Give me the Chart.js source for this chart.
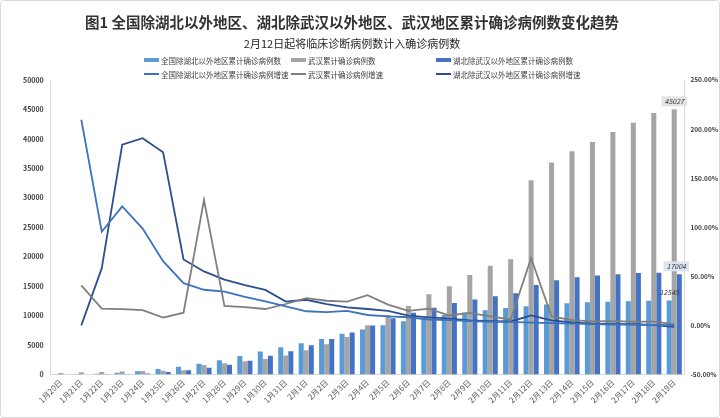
<!DOCTYPE html>
<html>
<head>
<meta charset="utf-8">
<script src="https://cdn.jsdelivr.net/npm/chart.js@4"></script>
<style>
    body { margin: 0; background: #fff; }
    #wrap {
        position: relative;
        width: 720px;
        height: 418px;
        box-sizing: border-box;
        border: 1px solid #d9d9d9;
        border-radius: 4px;
        overflow: hidden;
        background: #fff;
    }
    .heading {
        position: absolute;
        left: 0;
        width: 702px;
        text-align: center;
        font-family: 'Noto Sans CJK SC', sans-serif;
        white-space: nowrap;
    }
    #title { top: 10px; font-size: 14.5px; font-weight: bold; color: #333; }
    #subtitle { top: 34px; font-size: 11px; color: #262626; }
    #legend {
        position: absolute;
        left: 0;
        top: 0;
        font-family: 'Noto Sans CJK SC', sans-serif;
        font-size: 7.5px;
        color: #404040;
    }
    .item { position: absolute; display: flex; align-items: center; white-space: nowrap; }
    .swatch { display: inline-block; width: 15px; margin-right: 2px; }
</style>
</head>
<body>
<div id="wrap">
    <canvas id="chart"></canvas>
    <div id="title" class="heading">图1 全国除湖北以外地区、湖北除武汉以外地区、武汉地区累计确诊病例数变化趋势</div>
    <div id="subtitle" class="heading">2月12日起将临床诊断病例数计入确诊病例数</div>
    <div id="legend"></div>
</div>
<script>
const dates = [
    '1月20日', '1月21日', '1月22日', '1月23日', '1月24日', '1月25日', '1月26日', '1月27日',
    '1月28日', '1月29日', '1月30日', '1月31日', '2月1日', '2月2日', '2月3日', '2月4日',
    '2月5日', '2月6日', '2月7日', '2月8日', '2月9日', '2月10日', '2月11日', '2月12日',
    '2月13日', '2月14日', '2月15日', '2月16日', '2月17日', '2月18日', '2月19日',
];

// cumulative confirmed cases
const outsideHubei = [21, 65, 127, 281, 558, 923, 1321, 1801, 2420, 3125, 3886, 4638, 5306, 6028, 6916, 7646,
    8353, 9049, 9593, 10098, 10540, 10910, 11287, 11598, 11865, 12086, 12251, 12366, 12447, 12503, 12545];
const wuhan = [258, 363, 425, 495, 572, 618, 698, 1590, 1905, 2261, 2639, 3215, 4109, 5142, 6384, 8351,
    10117, 11618, 13603, 14982, 16902, 18454, 19558, 32994, 35991, 37914, 39462, 41152, 42752, 44412, 45027];
const hubeiExWuhan = [12, 12, 19, 54, 157, 434, 725, 1124, 1649, 2325, 3167, 3938, 4965, 6035, 7138, 8327,
    9548, 10494, 11350, 12118, 12729, 13274, 13808, 15212, 15995, 16492, 16787, 17030, 17237, 17270, 17004];

// growth rates, %
const outsideHubeiGrowth = [null, 209.5, 95.4, 121.3, 98.6, 65.4, 43.1, 36.3, 34.4, 29.1, 24.4, 19.4, 14.4, 13.6,
    14.7, 10.6, 9.2, 8.3, 6.0, 5.3, 4.4, 3.5, 3.5, 2.8, 2.3, 1.9, 1.4, 0.9, 0.7, 0.4, 0.3];
const wuhanGrowth = [null, 40.7, 17.1, 16.5, 15.6, 8.0, 12.9, 127.8, 19.8, 18.7, 16.7, 21.8, 27.8, 25.1,
    24.2, 30.8, 21.1, 14.8, 17.1, 10.1, 12.8, 9.2, 6.0, 68.7, 9.1, 5.3, 4.1, 4.3, 3.9, 3.9, 1.4];
const hubeiExWuhanGrowth = [null, 0.0, 58.3, 184.2, 190.7, 176.4, 67.1, 55.0, 46.7, 41.0, 36.2, 24.3, 26.1, 21.6,
    18.3, 16.7, 14.7, 9.9, 8.2, 6.8, 5.0, 4.3, 4.0, 10.2, 5.2, 3.1, 1.8, 1.5, 1.2, 0.2, -1.5];

const countTicks = [0, 5000, 10000, 15000, 20000, 25000, 30000, 35000, 40000, 45000, 50000];
const rateTicks = [-50, 0, 50, 100, 150, 200, 250];

const FONT = "'Noto Sans CJK SC', sans-serif";

const series = [
    { label: '全国除湖北以外地区累计确诊病例数', type: 'bar', data: outsideHubei, color: '#5b9bd5' },
    { label: '武汉累计确诊病例数', type: 'bar', data: wuhan, color: '#a5a5a5' },
    { label: '湖北除武汉以外地区累计确诊病例数', type: 'bar', data: hubeiExWuhan, color: '#4472c4' },
    { label: '全国除湖北以外地区累计确诊病例增速', type: 'line', data: outsideHubeiGrowth, color: '#3d72bf' },
    { label: '武汉累计确诊病例增速', type: 'line', data: wuhanGrowth, color: '#7f7f7f' },
    { label: '湖北除武汉以外地区累计确诊病例增速', type: 'line', data: hubeiExWuhanGrowth, color: '#2c4f8f' },
];

// value boxes on the last bar of each bar series
const endLabels = [
    { dataset: 1, dx: 0, dy: 8, fill: '#e4e4e4' },
    { dataset: 2, dx: -3, dy: 8, fill: '#dce4ef' },
    { dataset: 0, dx: 0, dy: 8, fill: null },
];

const endLabelPlugin = {
    id: 'endLabels',
    afterDatasetsDraw(chart) {
        const ctx = chart.ctx;
        ctx.save();
        ctx.font = 'italic 7px ' + FONT;
        ctx.textAlign = 'center';
        ctx.textBaseline = 'middle';
        endLabels.forEach((spec) => {
            const meta = chart.getDatasetMeta(spec.dataset);
            const i = meta.data.length - 1;
            const bar = meta.data[i];
            const text = String(chart.data.datasets[spec.dataset].data[i]);
            const x = bar.x + spec.dx;
            const y = bar.y - spec.dy;
            const w = ctx.measureText(text).width + 6;
            if (spec.fill) {
                ctx.fillStyle = spec.fill;
                ctx.fillRect(x - w / 2, y - 5, w, 10);
            }
            ctx.fillStyle = '#404040';
            ctx.fillText(text, x, y);
        });
        ctx.restore();
    },
};

const datasets = series.map((s) => {
    if (s.type === 'bar') {
        return {
            type: 'bar',
            label: s.label,
            data: s.data,
            backgroundColor: s.color,
            yAxisID: 'y',
            categoryPercentage: 0.74,
            barPercentage: 1,
            order: 2,
        };
    }
    return {
        type: 'line',
        label: s.label,
        data: s.data,
        borderColor: s.color,
        backgroundColor: s.color,
        borderWidth: 1.8,
        pointRadius: 0,
        tension: 0,
        yAxisID: 'y1',
        order: 1,
    };
});

// html legend, 3 columns x 2 rows
const legendCols = [143, 290, 435];
const legendRows = [59, 73];
const legendEl = document.getElementById('legend');
series.forEach((s, i) => {
    const item = document.createElement('div');
    item.className = 'item';
    item.style.left = legendCols[i % 3] + 'px';
    item.style.top = (legendRows[Math.floor(i / 3)] - 6) + 'px';
    item.style.height = '12px';
    const sw = document.createElement('span');
    sw.className = 'swatch';
    sw.style.height = s.type === 'bar' ? '4px' : '2px';
    sw.style.background = s.color;
    item.appendChild(sw);
    item.appendChild(document.createTextNode(s.label));
    legendEl.appendChild(item);
});

new Chart(document.getElementById('chart'), {
    data: {
        labels: dates,
        datasets: datasets,
    },
    plugins: [endLabelPlugin],
    options: {
        responsive: true,
        maintainAspectRatio: false,
        animation: false,
        layout: {
            padding: { left: 15, right: -5, top: 79, bottom: 9 },
        },
        scales: {
            x: {
                grid: { display: false, drawTicks: false },
                border: { display: true, color: '#d9d9d9' },
                ticks: {
                    autoSkip: false,
                    maxRotation: 45,
                    minRotation: 45,
                    padding: 3,
                    color: '#595959',
                    font: { size: 8, family: FONT },
                },
            },
            y: {
                position: 'left',
                min: 0,
                max: 50000,
                afterBuildTicks: (scale) => {
                    scale.ticks = countTicks.map((v) => ({ value: v }));
                },
                grid: { display: false, drawTicks: false },
                border: { display: true, color: '#d9d9d9' },
                ticks: {
                    padding: 7,
                    color: '#404040',
                    font: { size: 7, weight: 'bold', family: FONT },
                    callback: (v) => String(v),
                },
            },
            y1: {
                position: 'right',
                min: -50,
                max: 250,
                afterBuildTicks: (scale) => {
                    scale.ticks = rateTicks.map((v) => ({ value: v }));
                },
                grid: { display: false, drawTicks: false },
                border: { display: true, color: '#d9d9d9' },
                ticks: {
                    padding: 6,
                    color: '#404040',
                    font: { size: 6.5, weight: 'bold', family: FONT },
                    callback: (v) => v.toFixed(2) + '%',
                },
            },
        },
        plugins: {
            legend: { display: false },
            tooltip: { enabled: false },
            title: { display: false },
        },
    },
});
</script>
</body>
</html>
